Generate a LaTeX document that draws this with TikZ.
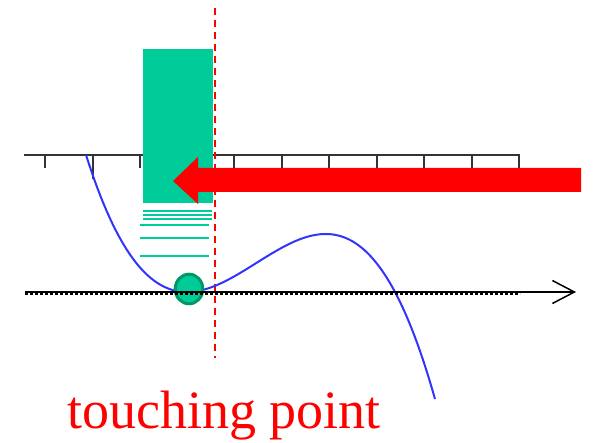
\documentclass[tikz,border=0pt]{standalone}
\usepackage{fontspec}
\setmainfont{Liberation Serif}
\usepackage{xcolor}
\usetikzlibrary{arrows.meta,shapes.geometric}
\definecolor{mint}{HTML}{00CC99}
\definecolor{darkmint}{HTML}{009966}
\definecolor{curveblue}{HTML}{3333FF}
\definecolor{rulergray}{HTML}{333333}

\begin{document}
\begin{tikzpicture}[x=1pt,y=-1pt,
  rulertick/.style={rulergray,line width=1.5pt},
  levelline/.style={mint,line width=1.3pt}]
\useasboundingbox (0,0) rectangle (594,443);
\draw[rulergray,line width=1.5pt] (24,155) -- (520,155);
\foreach \x in {45,140,187,234,282,329,377,424,472,519}
  \draw[rulertick] (\x,155) -- (\x,168);
\draw[rulertick] (93,155) -- (93,179);
\node (block) [fill=mint,minimum width=70pt,minimum height=154pt,inner sep=0pt,anchor=north west] at (143,49) {};
\foreach \y in {211,215,219}
  \draw[levelline] (143,\y) -- (212,\y);
\foreach \y in {225,238,256}
  \draw[levelline] (140,\y) -- (209,\y);
\fill[red] (581,168) -- (198,168) -- (198,157) -- (173,181) -- (198,204) -- (198,192) -- (581,192) -- cycle;
\draw[red,line width=2pt,dash pattern=on 7pt off 5pt] (215,8) -- (215,358);
\draw[curveblue,line width=2pt] plot[domain=86:435,samples=120] (\x,{292-43.51*((\x-187)/100)^2*((395-\x)/100)});
\node (touch) [ellipse,draw=darkmint,fill=mint,line width=3pt,minimum width=27.6pt,minimum height=29.6pt,inner sep=0pt] at (189,289) {};
\draw[black,line width=1.5pt,dash pattern=on 3pt off 2pt] (25,294) -- (520,294);
\coordinate (axisstart) at (25,292);
\coordinate (axisend) at (576,292);
\draw[black,line width=1.5pt,-{Straight Barb[length=22pt,width=23pt,line width=1.5pt]}] (axisstart) -- (axisend);
\node (label) [red,anchor=base west,inner sep=0pt,font=\fontsize{54}{60}\selectfont] at (67,428) {touching point};
\end{tikzpicture}
\end{document}
